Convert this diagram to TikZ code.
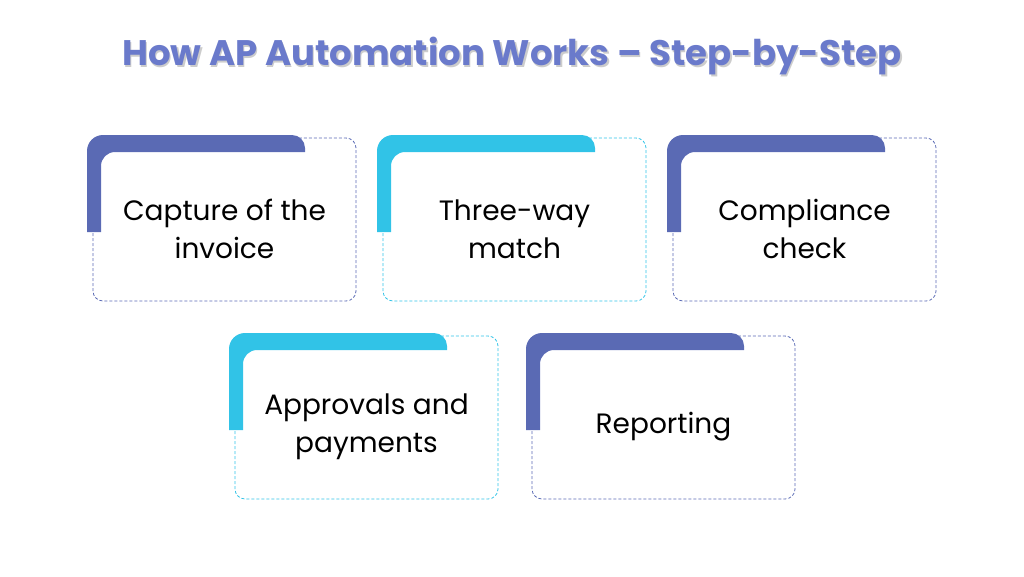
\documentclass[tikz,border=0pt]{standalone}
\usepackage{fontspec}
\setmainfont{Poppins}
\definecolor{dk}{HTML}{5A6AB4}
\definecolor{cy}{HTML}{31C3E7}
\definecolor{tt}{HTML}{6A7ACB}
\begin{document}
\begin{tikzpicture}[x=1pt,y=-1pt,
  card/.style={draw=#1,dashed,dash pattern=on 3pt off 2pt,line width=0.8pt,rounded corners=10pt},
  lbl/.style={font=\fontsize{28}{38}\selectfont,align=center,text=black}]
\useasboundingbox (0,0) rectangle (1024,576);
\newcommand\cardat[5]{% name, x, y, color, text
  \draw[card=#4] (#2,#3) rectangle ++(263,163);
  \fill[#4] (#2-6,#3+94) [rounded corners=16pt] -- (#2-6,#3-3) [rounded corners=13pt] -- (#2+212,#3-3)
     [sharp corners] -- (#2+212,#3+14) [rounded corners=14pt] -- (#2+8,#3+14)
     [sharp corners] -- (#2+8,#3+94) -- cycle;
  \node[lbl] (#1) at (#2+131.5,#3+91) {#5};
}
\node[font=\bfseries\fontsize{35.5}{40}\selectfont,text=black!20] (shadow) at (513.5,58.5) {How AP Automation Works -- Step-by-Step};
\node[font=\bfseries\fontsize{35.5}{40}\selectfont,text=tt] (title) at (512,56) {How AP Automation Works -- Step-by-Step};
\cardat{c1}{93}{138}{dk}{Capture of the\\invoice}
\cardat{c2}{383}{138}{cy}{Three-way\\match}
\cardat{c3}{673}{138}{dk}{Compliance\\check}
\cardat{c4}{235}{336}{cy}{Approvals and\\payments}
\cardat{c5}{532}{336}{dk}{Reporting}
\end{tikzpicture}
\end{document}
